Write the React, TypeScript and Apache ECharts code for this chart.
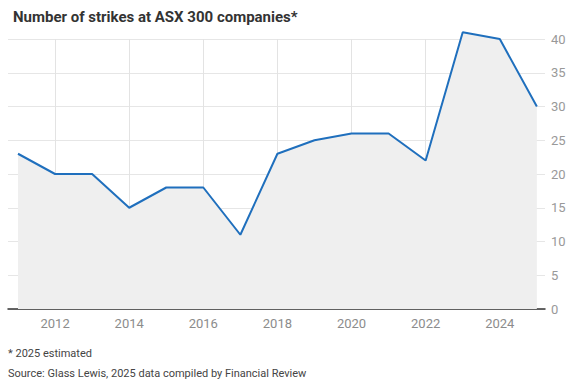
import React, { useEffect, useRef } from "react";
import * as echarts from "echarts";

const years = [2011, 2012, 2013, 2014, 2015, 2016, 2017, 2018, 2019, 2020, 2021, 2022, 2023, 2024, 2025];
const strikes = [23, 20, 20, 15, 18, 18, 11, 23, 25, 26, 26, 22, 41, 40, 30];
const xTicks = [2012, 2014, 2016, 2018, 2020, 2022, 2024];
const title = "Number of strikes at ASX 300 companies*";
const note = "* 2025 estimated";
const source = "Source: Glass Lewis, 2025 data compiled by Financial Review";

export default function App() {
  const ref = useRef<HTMLDivElement>(null);
  useEffect(() => {
    const chart = echarts.init(ref.current!, null, { renderer: "svg" });
    const font = "Roboto, 'Noto Sans', sans-serif";
    chart.setOption({
      animation: false,
      backgroundColor: "#ffffff",
      textStyle: { fontFamily: font },
      title: {
        text: title,
        left: 8,
        top: 4,
        textStyle: { fontFamily: font, fontSize: 15, fontWeight: "bold", color: "#333333" },
      },
      graphic: [
        { type: "text", left: 8, top: 348, style: { text: note, fontFamily: font, fontSize: 11, fill: "#444444" } },
        { type: "text", left: 8, top: 368, style: { text: source, fontFamily: font, fontSize: 11, fill: "#444444" } },
      ],
      grid: { left: 8, right: 37, top: 39, bottom: 82, containLabel: false },
      xAxis: {
        type: "value",
        min: 2010.73,
        max: 2025.22,
        axisLine: { show: true, onZero: false, lineStyle: { color: "#333333", width: 1.5 } },
        axisTick: { show: false, customValues: xTicks },
        axisLabel: { customValues: xTicks, color: "#8c8c8c", fontSize: 13, margin: 8, formatter: (v: number) => String(v) },
        splitLine: { show: true, lineStyle: { color: "#e3e3e3", width: 1 } },
      },
      yAxis: {
        type: "value",
        position: "right",
        min: 0,
        max: 40,
        interval: 5,
        axisLine: { show: false },
        axisTick: { show: false },
        axisLabel: { color: "#999999", fontSize: 13, margin: 6 },
        splitLine: { show: true, lineStyle: { color: "#e6e6e6", width: 1 } },
      },
      series: [
        {
          type: "line",
          data: years.map((y, i) => [y, strikes[i]]),
          clip: false,
          symbol: "none",
          lineStyle: { color: "#1f6fbd", width: 2 },
          areaStyle: { color: "#efefef", opacity: 1 },
          z: 1,
        },
      ],
    });
    return () => chart.dispose();
  }, []);
  return <div ref={ref} style={{ width: 582, height: 391, position: "absolute", left: 0, top: 0 }} />;
}
